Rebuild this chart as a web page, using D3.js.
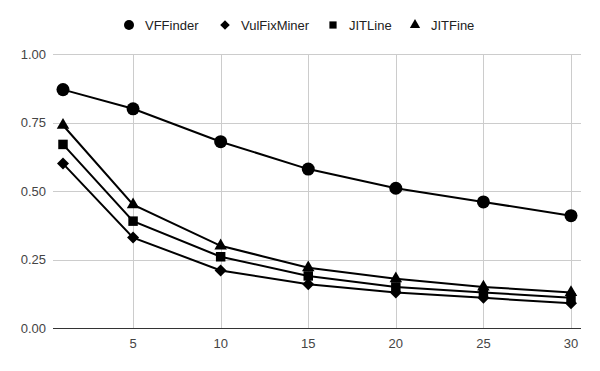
<!DOCTYPE html>
<html><head><meta charset="utf-8">
<script src="https://cdn.jsdelivr.net/npm/d3@7/dist/d3.min.js"></script>
<style>body{margin:0;background:#fff}svg{display:block;font-family:"Liberation Sans",Arial,sans-serif}</style>
</head><body>
<svg id="c" width="600" height="371"></svg>
<script>
const xValues = [1, 5, 10, 15, 20, 25, 30];
const xTicks = [5, 10, 15, 20, 25, 30];
const yTicks = [0, 0.25, 0.5, 0.75, 1.0];
const seriesNames = ["VFFinder", "VulFixMiner", "JITLine", "JITFine"];
const vfFinder = [0.87, 0.80, 0.68, 0.58, 0.51, 0.46, 0.41];
const vulFixMiner = [0.60, 0.33, 0.21, 0.16, 0.13, 0.11, 0.09];
const jitLine = [0.67, 0.39, 0.26, 0.19, 0.15, 0.13, 0.11];
const jitFine = [0.74, 0.45, 0.30, 0.22, 0.18, 0.15, 0.13];
const seriesValues = [vfFinder, vulFixMiner, jitLine, jitFine];
const symbols = [d3.symbolCircle, d3.symbolSquare, d3.symbolSquare, d3.symbolTriangle];
const rotations = [0, 45, 0, 0];
const markerSizes = [133, 72, 90, 68];
const legendSizes = [78, 46, 52, 46];

const svg = d3.select("#c");
const pLeft = 53, pRight = 581, pTop = 54, pBottom = 328;
const x = d3.scaleLinear().domain([1, 30]).range([63, 571]);
const y = d3.scaleLinear().domain([0, 1]).range([pBottom, pTop]);

svg.append("g").selectAll("line").data(yTicks.filter(d => d > 0)).join("line")
  .attr("x1", pLeft).attr("x2", pRight)
  .attr("y1", d => Math.round(y(d)) + 0.5).attr("y2", d => Math.round(y(d)) + 0.5)
  .attr("stroke", "#cccccc").attr("stroke-width", 1);
svg.append("g").selectAll("line").data(xTicks).join("line")
  .attr("x1", d => Math.round(x(d)) + 0.5).attr("x2", d => Math.round(x(d)) + 0.5)
  .attr("y1", pTop).attr("y2", pBottom)
  .attr("stroke", "#cccccc").attr("stroke-width", 1);
svg.append("line").attr("x1", pLeft).attr("x2", pRight).attr("y1", y(0) + 0.5).attr("y2", y(0) + 0.5)
  .attr("stroke", "#333333").attr("stroke-width", 1);

svg.append("g").selectAll("text").data(yTicks).join("text")
  .attr("x", 46).attr("y", d => y(d) + 4.5)
  .attr("text-anchor", "end").attr("font-size", 13).attr("fill", "#444")
  .text(d => d3.format(".2f")(d));
svg.append("g").selectAll("text").data(xTicks).join("text")
  .attr("x", d => x(d)).attr("y", 348)
  .attr("text-anchor", "middle").attr("font-size", 13).attr("fill", "#444")
  .text(d => d);

const line = d3.line().x((d, i) => x(xValues[i])).y(d => y(d));
seriesValues.forEach((vals) => {
  svg.append("path").datum(vals).attr("d", line)
    .attr("fill", "none").attr("stroke", "#000").attr("stroke-width", 2);
});
seriesValues.forEach((vals, s) => {
  svg.append("g").selectAll("path").data(vals).join("path")
    .attr("transform", (d, i) => `translate(${x(xValues[i])},${y(d)}) rotate(${rotations[s]})`)
    .attr("d", d3.symbol().type(symbols[s]).size(markerSizes[s]))
    .attr("fill", "#000");
});

const legendX = [129, 225, 333, 415];
const lg = svg.append("g");
seriesNames.forEach((name, s) => {
  lg.append("path").attr("transform", `translate(${legendX[s]},25) rotate(${rotations[s]})`)
    .attr("d", d3.symbol().type(symbols[s]).size(legendSizes[s])).attr("fill", "#000");
  lg.append("text").attr("x", legendX[s] + 16).attr("y", 30)
    .attr("font-size", 13).attr("fill", "#222").text(name);
});
</script>
</body></html>
